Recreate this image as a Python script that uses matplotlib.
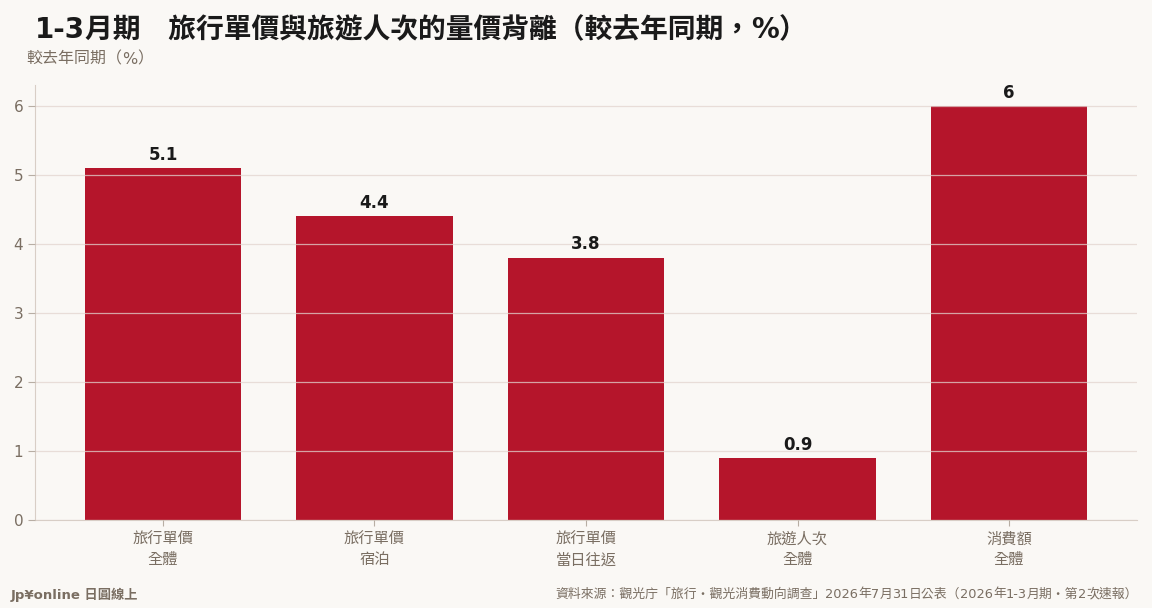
import matplotlib
matplotlib.use('Agg')
import matplotlib.pyplot as plt
from matplotlib.offsetbox import TextArea, HPacker, AnchoredOffsetbox
import numpy as np

# data
categories = ['旅行單價\n全體', '旅行單價\n宿泊', '旅行單價\n當日往返', '旅遊人次\n全體', '消費額\n全體']
values = [5.1, 4.4, 3.8, 0.9, 6]
value_labels = ['5.1', '4.4', '3.8', '0.9', '6']
yticks = [0, 1, 2, 3, 4, 5, 6]

# title pieces: (text, uses latin font)
title_parts = [('1-3', True), ('月期　旅行單價與旅遊人次的量價背離（較去年同期，', False),
               ('%', True), ('）', False)]
ylabel_parts = [('較去年同期（', False), ('%', True), ('）', False)]
brand = 'Jp¥online 日圓線上'
source_parts = [('資料來源：觀光庁「旅行・觀光消費動向調查」', False), ('2026', True),
                ('年', False), ('7', True), ('月', False), ('31', True), ('日公表（', False),
                ('2026', True), ('年', False), ('1-3', True), ('月期・第', False),
                ('2', True), ('次速報）', False)]

bg = '#faf8f5'
bar_color = '#b5152b'
text_gray = '#7a6e62'
latin = ['DejaVu Sans', 'Noto Sans CJK TC']
cjk = ['Noto Sans CJK TC', 'DejaVu Sans']
plt.rcParams['font.family'] = latin

fig = plt.figure(figsize=(11.52, 6.08), dpi=100, facecolor=bg)
ax = fig.add_axes([35/1152, 1 - 520/608, (1137-35)/1152, (520-85)/608])
ax.set_facecolor(bg)

x = np.arange(len(categories))
ax.bar(x, values, width=0.74, color=bar_color, zorder=2)
for xi, v, lab in zip(x, values, value_labels):
    ax.text(xi, v + 0.06, lab, ha='center', va='bottom', fontsize=12,
            fontweight='bold', color='#1a1a1a')

ax.set_xlim(-0.605, 4.605)
ax.set_ylim(0, 6.3)
ax.set_yticks(yticks)
ax.set_xticks(x)
ax.set_xticklabels(categories, fontsize=11, color=text_gray, linespacing=1.3,
                   family=cjk)
ax.tick_params(axis='y', labelsize=11, labelcolor=text_gray, color='#b8aea4', length=5)
ax.tick_params(axis='x', color='#b8aea4', length=4)
ax.grid(axis='y', color='#e2d4cf', linewidth=0.9, alpha=0.75, zorder=3)
ax.set_axisbelow(False)
for s in ['top', 'right']:
    ax.spines[s].set_visible(False)
for s in ['left', 'bottom']:
    ax.spines[s].set_color('#d8cec6')


def mixed_text(parts, size, color, weight, loc, xy):
    boxes = []
    for t, is_latin in parts:
        fam = latin if is_latin else cjk
        boxes.append(TextArea(t, textprops=dict(fontsize=size, color=color,
                                                fontweight=weight, family=fam)))
    pack = HPacker(children=boxes, align='baseline', pad=0, sep=0)
    box = AnchoredOffsetbox(loc=loc, child=pack, pad=0, borderpad=0, frameon=False,
                            bbox_to_anchor=xy, bbox_transform=fig.transFigure)
    fig.add_artist(box)


mixed_text(title_parts, 20, '#1a1a1a', 'bold', 'center left', (35/1152, 1 - 30/608))
mixed_text(ylabel_parts, 11.5, text_gray, 'normal', 'center left', (26/1152, 1 - 59/608))
mixed_text(source_parts, 9.25, text_gray, 'normal', 'center right', (1138/1152, 1 - 594/608))
fig.text(11/1152, 1 - 595/608, brand, fontsize=9.5, fontweight='bold',
         color=text_gray, va='center', ha='left')

fig.savefig('out.png', dpi=100, facecolor=bg)
